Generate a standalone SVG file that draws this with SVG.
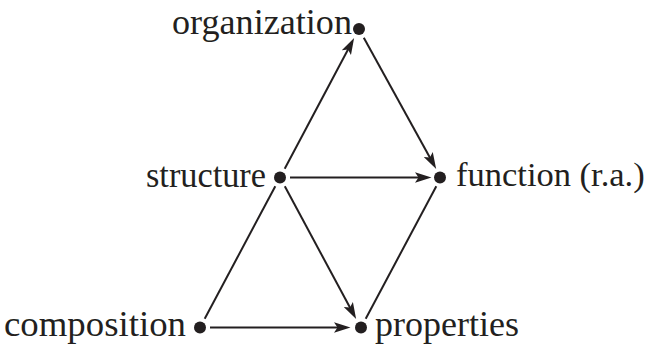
<svg xmlns="http://www.w3.org/2000/svg" width="652" height="344" viewBox="0 0 652 344">
<defs>
<style>
.lbl{font-family:"Liberation Serif","Times New Roman",serif;font-size:36px;fill:#231f20}
.dot{fill:#231f20}
.edge{stroke:#231f20;stroke-width:2;fill:none}
</style>
<marker id="arr" markerUnits="userSpaceOnUse" markerWidth="17" markerHeight="11" viewBox="0 0 17 11" refX="12" refY="5.5" orient="auto">
<path d="M0,0.3 L16.5,5.5 L0,10.7 L3.5,5.5 Z" fill="#231f20"/>
</marker>
</defs>
<rect width="652" height="344" fill="#ffffff"/>
<g id="connectors">
<path class="edge" d="M284.7,168.7 L352,42" marker-end="url(#arr)"/>
<path class="edge" d="M363.8,37.8 L434,165" marker-end="url(#arr)"/>
<path class="edge" d="M290,177.5 L427,177.5" marker-end="url(#arr)"/>
<path class="edge" d="M284.8,186.3 L354,315" marker-end="url(#arr)"/>
<path class="edge" d="M204.7,318.7 L275.3,186.3"/>
<path class="edge" d="M436.3,186.3 L365.7,318.7"/>
<path class="edge" d="M210,327.5 L346,327.5" marker-end="url(#arr)"/>
</g>
<g id="organization">
<circle class="dot" cx="359" cy="29" r="6"/>
<text class="lbl" x="352" y="34" text-anchor="end" textLength="180" lengthAdjust="spacingAndGlyphs">organization</text>
</g>
<g id="structure">
<circle class="dot" cx="280" cy="177.5" r="6"/>
<text class="lbl" x="266" y="187" text-anchor="end" textLength="120" lengthAdjust="spacingAndGlyphs">structure</text>
</g>
<g id="function">
<circle class="dot" cx="440" cy="177.5" r="6"/>
<text class="lbl" x="456" y="186" style="font-size:34.5px">function (r.a.)</text>
</g>
<g id="composition">
<circle class="dot" cx="200" cy="327.5" r="6"/>
<text class="lbl" x="186" y="336" text-anchor="end" textLength="182" lengthAdjust="spacingAndGlyphs">composition</text>
</g>
<g id="properties">
<circle class="dot" cx="361" cy="327.5" r="6"/>
<text class="lbl" x="375" y="336" textLength="144" lengthAdjust="spacingAndGlyphs">properties</text>
</g>
</svg>
